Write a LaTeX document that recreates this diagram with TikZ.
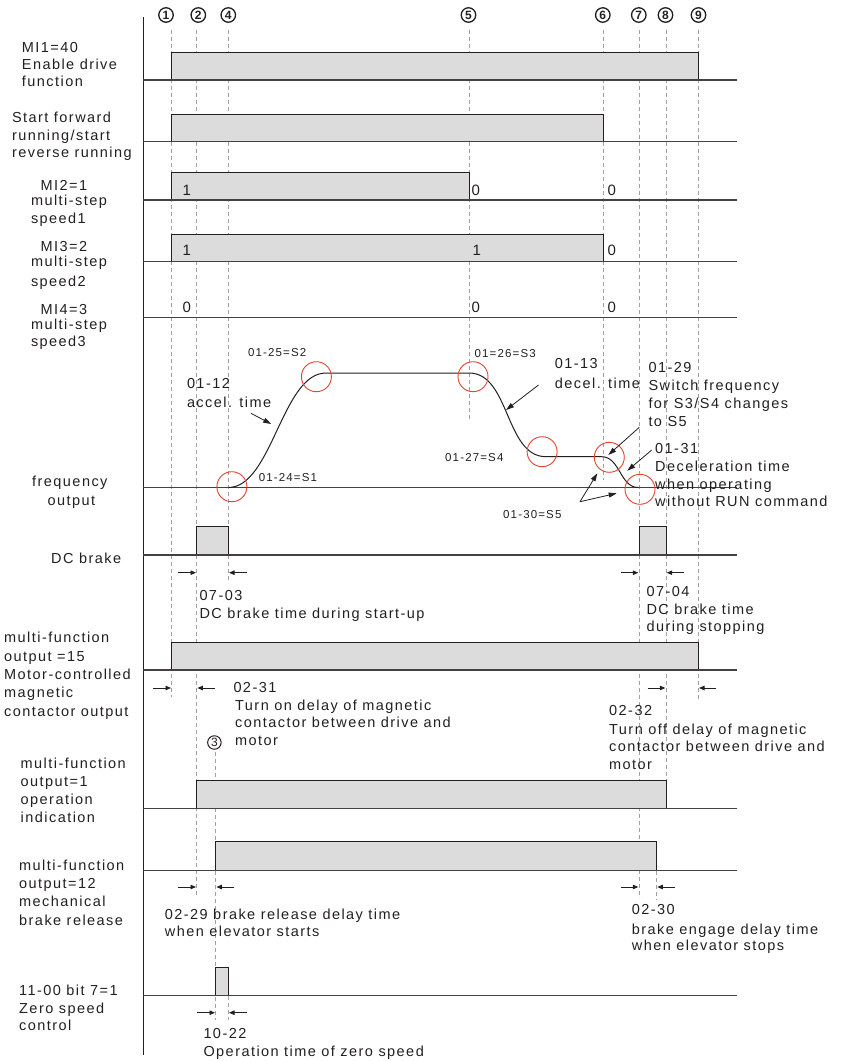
\documentclass[tikz,border=0pt]{standalone}
\usepackage{fontspec}
\setmainfont[LetterSpace=10]{Liberation Sans}
\usetikzlibrary{arrows.meta}
\definecolor{boxfill}{HTML}{DCDCDC}
\definecolor{ink}{HTML}{231F20}
\definecolor{dashc}{HTML}{A0A0A0}
\definecolor{redc}{HTML}{E5432E}
\newcommand\tl[5][txt]{\node[#1] (#2) at (#3,#4) {#5};}
\begin{document}
\begin{tikzpicture}[x=1pt,y=-1pt,
 txt/.style={anchor=base west,inner sep=0pt,font=\fontsize{14.5}{17}\selectfont,text=ink},
 stxt/.style={txt,font=\fontsize{11.5}{14}\selectfont},
 vtxt/.style={txt,font=\fontsize{15}{17}\selectfont},
 sig/.style={draw=ink,line width=0.9pt,fill=boxfill},
 baseln/.style={draw=ink!85,line width=1.3pt},
 guide/.style={draw=dashc,line width=0.6pt,dash pattern=on 4pt off 3pt},
 ring/.style={draw=redc,line width=0.9pt},
 tick/.style={draw=ink,line width=0.8pt,-{Triangle[length=5.5pt,width=4.5pt]}},
 callout/.style={draw=ink,line width=0.8pt,-{Triangle[length=8pt,width=5pt]}},
 numc/.style={draw=ink,circle,line width=1.3pt,minimum size=14.5pt,inner sep=0pt,text=ink,font=\bfseries\fontsize{12}{12}\selectfont},
]
\useasboundingbox (0,0) rectangle (847,1061);

% axis
\draw[ink,line width=1pt] (143.3,17) coordinate (axtop) -- (143.3,1055) coordinate (axbot);

% guide lines
\foreach \x/\a/\b in {171.7/30/697, 196.7/30/898, 228.3/30/583, 469/30/420, 603.3/30/480, 639/30/898, 666/30/780, 698.3/30/700, 215.7/752/1020, 656.6/871/900, 228.3/996/1020}
  \draw[guide] (\x,\a) -- (\x,\b);

% circled event numbers
\node[numc] (n1) at (166,15) {1};
\node[numc] (n2) at (198.3,15) {2};
\node[numc] (n4) at (228.3,15) {4};
\node[numc] (n5) at (468.5,15) {5};
\node[numc] (n6) at (602.8,15) {6};
\node[numc] (n7) at (638.8,15) {7};
\node[numc] (n8) at (665.5,15) {8};
\node[numc] (n9) at (698.5,15) {9};
\node[numc,line width=1pt,minimum size=13.5pt,font=\fontsize{12}{12}\selectfont] (n3) at (214.4,742.5) {3};

% signal boxes
\draw[sig] (171.7,52) rectangle (698.3,80);
\draw[sig] (171.7,114) rectangle (603.3,141.7);
\draw[sig] (171.7,172.7) rectangle (469,200);
\draw[sig] (171.7,234.3) rectangle (603.3,261.7);
\draw[sig] (196.7,526) rectangle (228.3,555);
\draw[sig] (639,526) rectangle (666,555);
\draw[sig] (171.7,642.7) rectangle (698.3,670);
\draw[sig] (196.7,780) rectangle (666,808.3);
\draw[sig] (215.7,841.7) rectangle (656.6,870.7);
\draw[sig] (215.7,967.3) rectangle (228.3,995.5);

% baselines
\foreach \y in {80,141.7,200,261.7,317.3,487.5,555,670,808.3,870.7,995.5}
  \draw[baseln] (143.3,\y) -- (737,\y);

% frequency curve
\draw[ink,line width=1pt] (228.3,487.5) .. controls (272,487.5) and (282,373) .. (326,373) -- (469,373) .. controls (510,373) and (505,456.7) .. (546,456.7) -- (601.7,456.7) .. controls (620,456.7) and (620,487.5) .. (638.3,487.5);

% red rings
\draw[ring] (231.9,486.7) circle[radius=15pt];
\draw[ring] (316.4,376.7) circle[radius=15pt];
\draw[ring] (473,376.7) circle[radius=15pt];
\draw[ring] (542.1,451.7) circle[radius=15pt];
\draw[ring] (609.3,457.3) circle[radius=15pt];
\draw[ring] (640,489.3) circle[radius=15pt];

% left labels
\tl{r1a}{21.7}{52.7}{MI1=40}
\tl{r1b}{21.7}{69}{Enable drive}
\tl{r1c}{21.7}{86}{function}
\tl{r2a}{11.9}{122.7}{Start forward}
\tl{r2b}{11.9}{140}{running/start}
\tl{r2c}{11.9}{157.5}{reverse running}
\tl{r3a}{40.5}{190}{MI2=1}
\tl{r3b}{30.8}{205.5}{multi-step}
\tl{r3c}{30.8}{223.3}{speed1}
\tl{r4a}{40.5}{251.7}{MI3=2}
\tl{r4b}{30.8}{266.7}{multi-step}
\tl{r4c}{30.8}{286}{speed2}
\tl{r5a}{40.5}{314}{MI4=3}
\tl{r5b}{30.8}{329.5}{multi-step}
\tl{r5c}{30.8}{346}{speed3}
\tl{f1}{32}{486.5}{frequency}
\tl{f2}{47.5}{505}{output}
\tl{dcl}{51}{563.3}{DC brake}
\tl{m15a}{4}{642.7}{multi-function}
\tl{m15b}{4}{661}{output =15}
\tl{m15c}{4}{679.3}{Motor-controlled}
\tl{m15d}{4}{697.6}{magnetic}
\tl{m15e}{4}{716}{contactor output}
\tl{m1a}{20.5}{768.3}{multi-function}
\tl{m1b}{20.5}{786.4}{output=1}
\tl{m1c}{20.5}{804.5}{operation}
\tl{m1d}{20.5}{822.7}{indication}
\tl{m12a}{19}{870.7}{multi-function}
\tl{m12b}{19}{888.8}{output=12}
\tl{m12c}{19}{906.9}{mechanical}
\tl{m12d}{19}{925}{brake release}
\tl{z1}{19}{995}{11-00 bit 7=1}
\tl{z2}{19}{1013.3}{Zero speed}
\tl{z3}{19}{1030.7}{control}

% step values
\tl[vtxt]{v2a}{182.5}{195}{1}
\tl[vtxt]{v2b}{471.4}{195}{0}
\tl[vtxt]{v2c}{607.4}{195}{0}
\tl[vtxt]{v3a}{182.5}{255}{1}
\tl[vtxt]{v3b}{472.5}{255}{1}
\tl[vtxt]{v3c}{607.4}{255}{0}
\tl[vtxt]{v4a}{182.5}{312.3}{0}
\tl[vtxt]{v4b}{471.4}{312.3}{0}
\tl[vtxt]{v4c}{607.4}{312.3}{0}

% curve annotations
\tl[stxt]{s2}{247.8}{356.8}{01-25=S2}
\tl[stxt]{s3}{474.4}{357.8}{01=26=S3}
\tl[stxt]{s1}{258.6}{481.7}{01-24=S1}
\tl[stxt]{s4}{445}{461.7}{01-27=S4}
\tl[stxt]{s5}{503}{518.3}{01-30=S5}
\tl{acc1}{186.8}{388.3}{01-12}
\tl{acc2}{186.8}{407.3}{accel. time}
\tl{dec1}{554.7}{368.7}{01-13}
\tl{dec2}{554.7}{388.3}{decel. time}
\tl{sw1}{648.3}{372.7}{01-29}
\tl{sw2}{648.3}{390}{Switch frequency}
\tl{sw3}{648.3}{408.3}{for S3/S4 changes}
\tl{sw4}{648.3}{426}{to S5}
\tl{dt1}{655}{453.3}{01-31}
\tl{dt2}{655}{471.7}{Deceleration time}
\tl{dt3}{655}{489.3}{when operating}
\tl{dt4}{655}{506.7}{without RUN command}

% callout arrows
\coordinate (accA) at (251,413.3);   \coordinate (accB) at (271.2,424);
\coordinate (decA) at (538.5,385);   \coordinate (decB) at (506,410);
\coordinate (swA) at (639.3,427.3);  \coordinate (swB) at (608.3,455);
\coordinate (dtA) at (651.7,450);    \coordinate (dtB) at (627.3,470.7);
\coordinate (s5A) at (580,501.7);
\coordinate (s5B) at (597.3,473.3);  \coordinate (s5C) at (616.7,493.3);
\draw[callout] (accA) -- (accB);
\draw[callout] (decA) -- (decB);
\draw[callout] (swA) -- (swB);
\draw[callout] (dtA) -- (dtB);
\draw[callout] (s5A) -- (s5B);
\draw[callout] (s5A) -- (s5C);

% duration ticks
\foreach \y/\a/\b in {572.7/178.3/196, 572.7/246.7/229, 572.7/621/638.3, 572.7/684/666.7,
  688/153/171, 688/214.7/197.4, 688/647.5/665.3, 688/716/699,
  887/178.3/196, 887/234/216.4, 887/621/638.3, 887/674.5/657.3,
  1012.7/197/215, 1012.7/246.7/229}
  \draw[tick] (\a,\y) -- (\b,\y);

% duration texts
\tl{b1}{199.3}{600}{07-03}
\tl{b2}{199.3}{618.3}{DC brake time during start-up}
\tl{b3}{646.3}{596.7}{07-04}
\tl{b4}{646.3}{614.3}{DC brake time}
\tl{b5}{646.3}{631.7}{during stopping}
\tl{c1}{233.3}{692.7}{02-31}
\tl{c2}{235}{710.7}{Turn on delay of magnetic}
\tl{c3}{235}{727.3}{contactor between drive and}
\tl{c4}{235}{745}{motor}
\tl{c5}{609}{715}{02-32}
\tl{c6}{609}{734.3}{Turn off delay of magnetic}
\tl{c7}{609}{751.7}{contactor between drive and}
\tl{c8}{609}{769.3}{motor}
\tl{d1}{164.7}{919.3}{02-29 brake release delay time}
\tl{d2}{164.7}{936.7}{when elevator starts}
\tl{d3}{631.7}{914.3}{02-30}
\tl{d4}{631.7}{934.3}{brake engage delay time}
\tl{d5}{631.7}{950}{when elevator stops}
\tl{e1}{203.3}{1038.3}{10-22}
\tl{e2}{203.3}{1056.7}{Operation time of zero speed}
\end{tikzpicture}
\end{document}
